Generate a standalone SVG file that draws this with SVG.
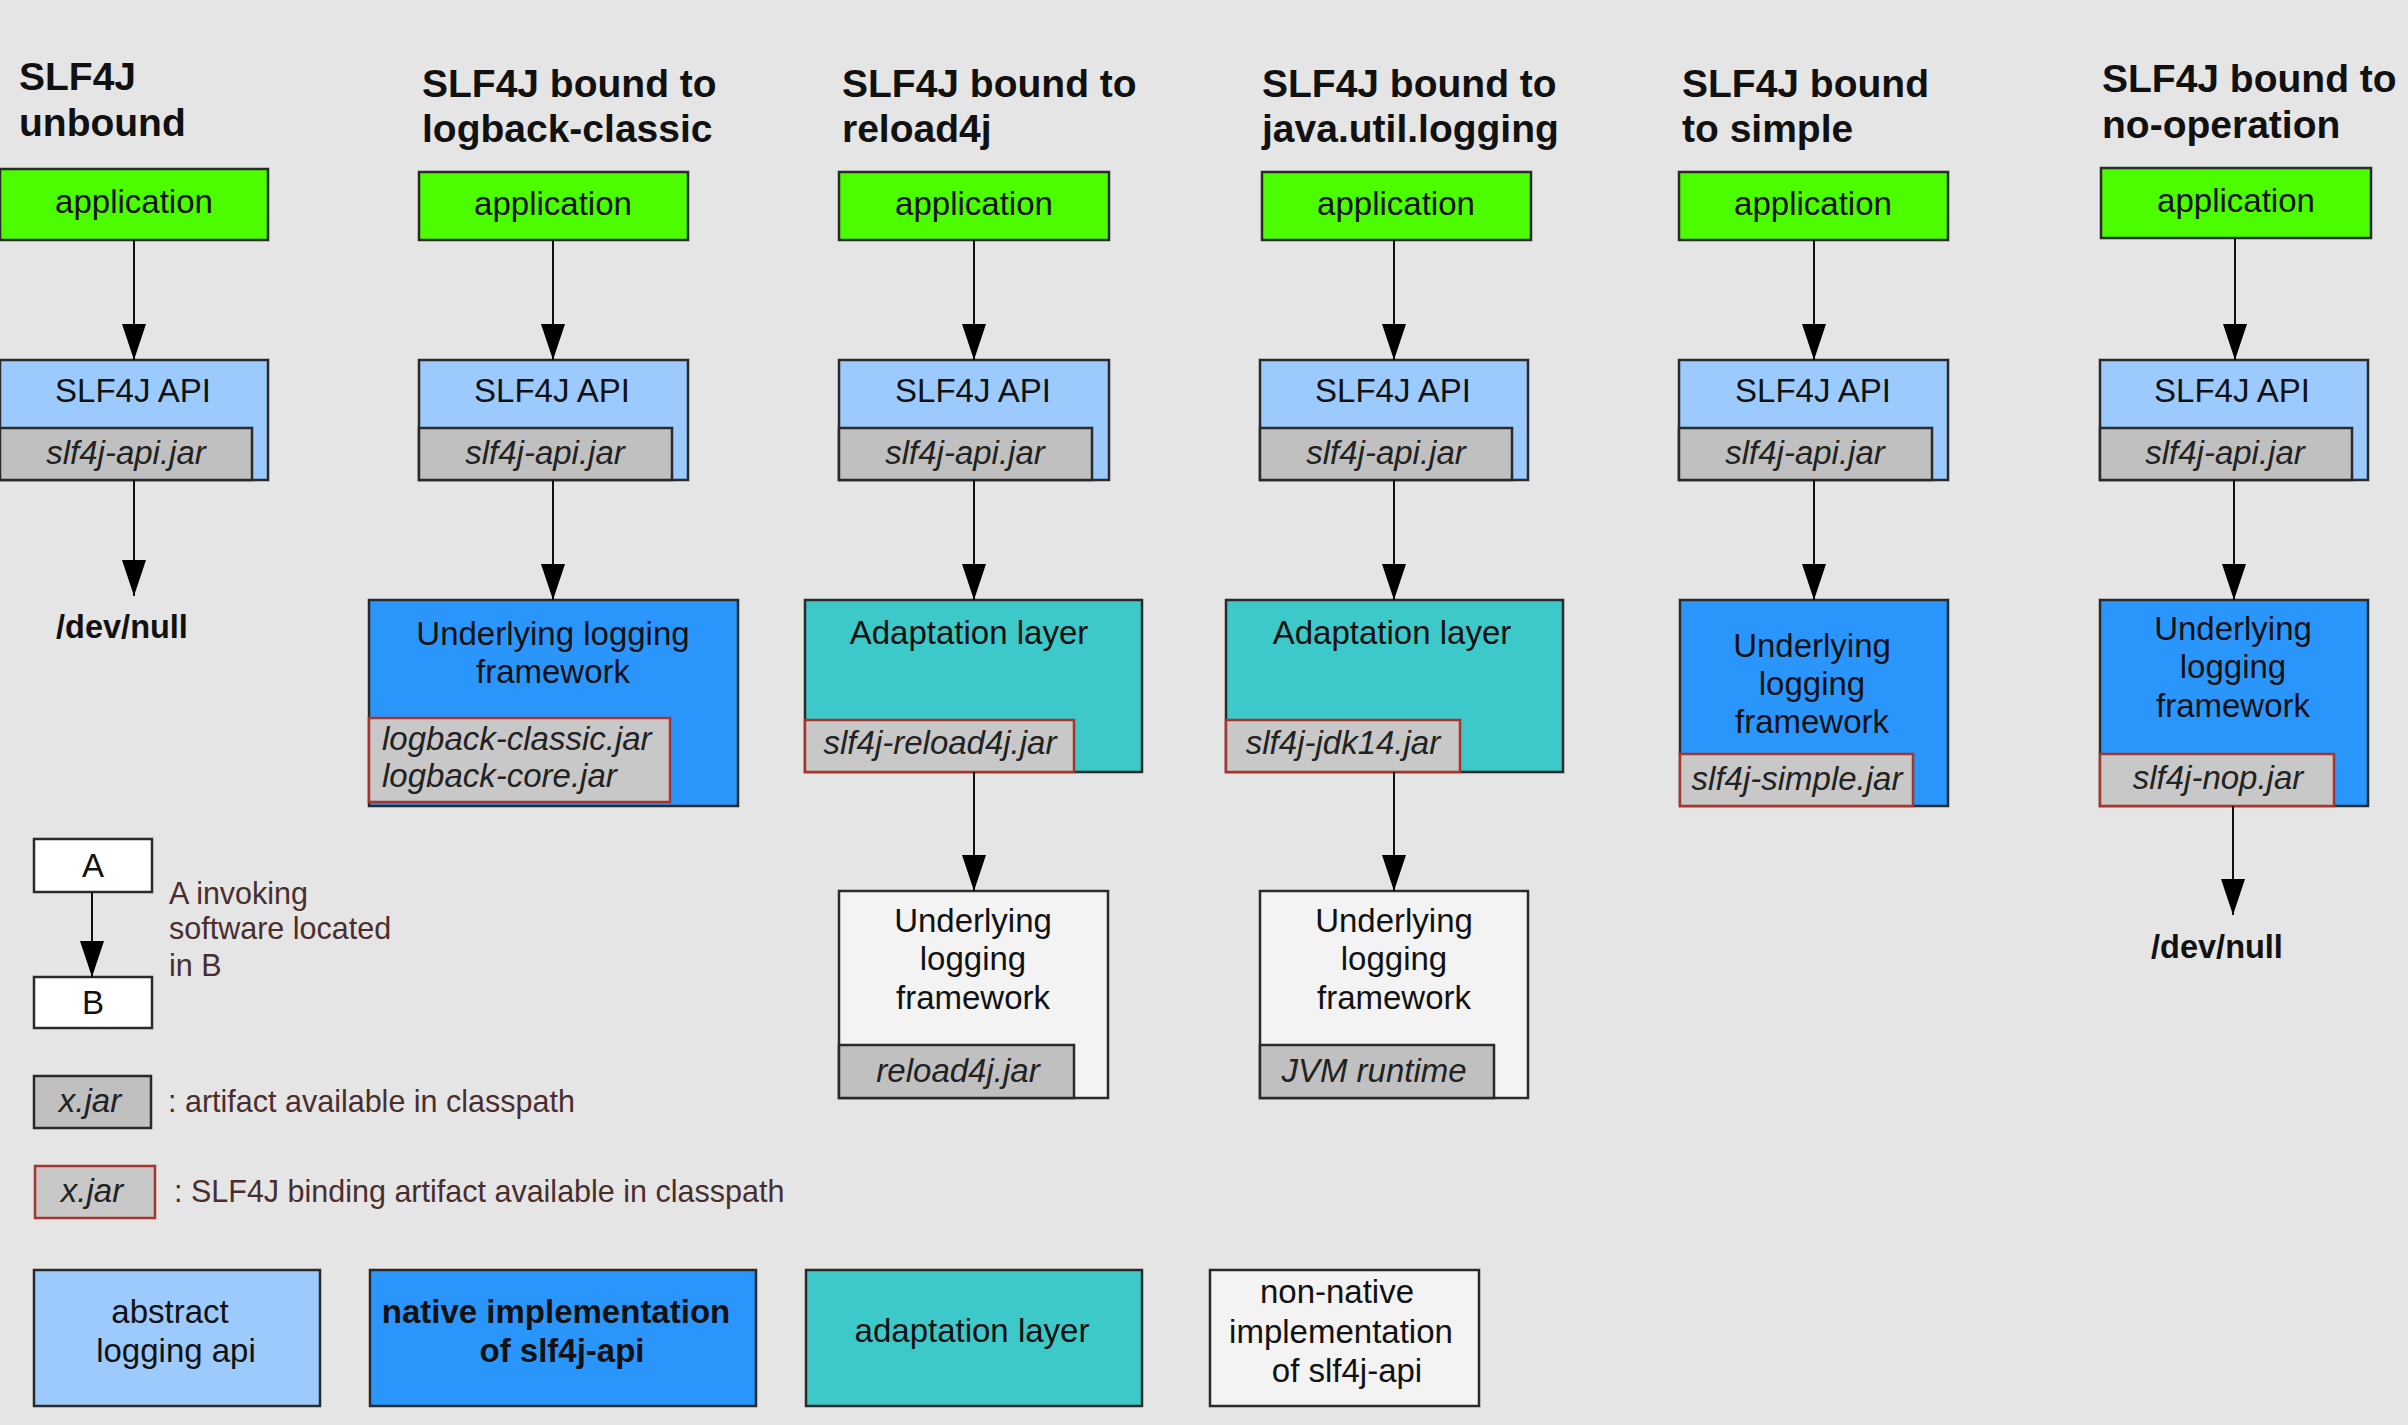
<svg xmlns="http://www.w3.org/2000/svg" width="2408" height="1425" viewBox="0 0 2408 1425">
<defs>
<marker id="ah" markerUnits="userSpaceOnUse" markerWidth="36" markerHeight="24" viewBox="0 0 36 24" refX="36" refY="12" orient="auto">
<path d="M0,0 L36,12 L0,24 z" fill="#000"/>
</marker>
</defs>
<style>
text{font-family:"Liberation Sans",Arial,sans-serif;fill:#111}
.t{font-size:39px;font-weight:bold}
.n{font-size:33px;text-anchor:middle}
.j{font-size:33px;font-style:italic;text-anchor:middle;fill:#222}
.jl{font-size:33px;font-style:italic;fill:#222}
.lg{font-size:30.5px;fill:#4a2e2e}
.dn{font-size:32.5px;font-weight:bold;text-anchor:middle}
rect{stroke:#2a2a2a;stroke-width:2.5}
.app{fill:#4cfd00}
.api{fill:#9dcafd}
.nat{fill:#2a96fc}
.ada{fill:#3dc8c9}
.wht{fill:#f3f3f3}
.jar{fill:#c0c0c0}
.bjar{fill:#c8c8c8;stroke:#a8352c}
.conn line{stroke:#111;stroke-width:2;marker-end:url(#ah)}
</style>
<rect x="0" y="0" width="2408" height="1425" fill="#e5e5e5" style="stroke:none"/>

<g id="titles">
<text class="t" x="19" y="90">SLF4J</text><text class="t" x="19" y="136">unbound</text>
<text class="t" x="422" y="97">SLF4J bound to</text><text class="t" x="422" y="142">logback-classic</text>
<text class="t" x="842" y="97">SLF4J bound to</text><text class="t" x="842" y="142">reload4j</text>
<text class="t" x="1262" y="97">SLF4J bound to</text><text class="t" x="1262" y="142">java.util.logging</text>
<text class="t" x="1682" y="97">SLF4J bound</text><text class="t" x="1682" y="142">to simple</text>
<text class="t" x="2102" y="92">SLF4J bound to</text><text class="t" x="2102" y="138">no-operation</text>
</g>

<g id="app1"><rect class="app" x="0" y="169" width="268" height="71"/><text class="n" x="134" y="213">application</text></g>
<g id="app2"><rect class="app" x="419" y="172" width="269" height="68"/><text class="n" x="553" y="215">application</text></g>
<g id="app3"><rect class="app" x="839" y="172" width="270" height="68"/><text class="n" x="974" y="215">application</text></g>
<g id="app4"><rect class="app" x="1262" y="172" width="269" height="68"/><text class="n" x="1396" y="215">application</text></g>
<g id="app5"><rect class="app" x="1679" y="172" width="269" height="68"/><text class="n" x="1813" y="215">application</text></g>
<g id="app6"><rect class="app" x="2101" y="168" width="270" height="70"/><text class="n" x="2236" y="212">application</text></g>

<g id="api1"><rect class="api" x="0" y="360" width="268" height="120"/><text class="n" x="133" y="402">SLF4J API</text><rect class="jar" x="0" y="428" width="252" height="52"/><text class="j" x="126" y="464">slf4j-api.jar</text></g>
<g id="api2"><rect class="api" x="419" y="360" width="269" height="120"/><text class="n" x="552" y="402">SLF4J API</text><rect class="jar" x="419" y="428" width="253" height="52"/><text class="j" x="545" y="464">slf4j-api.jar</text></g>
<g id="api3"><rect class="api" x="839" y="360" width="270" height="120"/><text class="n" x="973" y="402">SLF4J API</text><rect class="jar" x="839" y="428" width="253" height="52"/><text class="j" x="965" y="464">slf4j-api.jar</text></g>
<g id="api4"><rect class="api" x="1260" y="360" width="268" height="120"/><text class="n" x="1393" y="402">SLF4J API</text><rect class="jar" x="1260" y="428" width="252" height="52"/><text class="j" x="1386" y="464">slf4j-api.jar</text></g>
<g id="api5"><rect class="api" x="1679" y="360" width="269" height="120"/><text class="n" x="1813" y="402">SLF4J API</text><rect class="jar" x="1679" y="428" width="253" height="52"/><text class="j" x="1805" y="464">slf4j-api.jar</text></g>
<g id="api6"><rect class="api" x="2100" y="360" width="268" height="120"/><text class="n" x="2232" y="402">SLF4J API</text><rect class="jar" x="2100" y="428" width="252" height="52"/><text class="j" x="2225" y="464">slf4j-api.jar</text></g>

<g id="devnull1"><text class="dn" x="122" y="638">/dev/null</text></g>

<g id="fw2"><rect class="nat" x="369" y="600" width="369" height="206"/><text class="n" x="553" y="645">Underlying logging</text><text class="n" x="553" y="683">framework</text><rect class="bjar" x="369" y="718" width="301" height="84"/><text class="jl" x="382" y="750">logback-classic.jar</text><text class="jl" x="382" y="787">logback-core.jar</text></g>

<g id="adapt3"><rect class="ada" x="805" y="600" width="337" height="172"/><text class="n" x="969" y="644">Adaptation layer</text><rect class="bjar" x="805" y="720" width="269" height="52"/><text class="j" x="940" y="754">slf4j-reload4j.jar</text></g>
<g id="fwr3"><rect class="wht" x="839" y="891" width="269" height="207"/><text class="n" x="973" y="932">Underlying</text><text class="n" x="973" y="970">logging</text><text class="n" x="973" y="1009">framework</text><rect class="jar" x="839" y="1045" width="235" height="53"/><text class="j" x="958" y="1082">reload4j.jar</text></g>

<g id="adapt4"><rect class="ada" x="1226" y="600" width="337" height="172"/><text class="n" x="1392" y="644">Adaptation layer</text><rect class="bjar" x="1226" y="720" width="234" height="52"/><text class="j" x="1343" y="754">slf4j-jdk14.jar</text></g>
<g id="fwj4"><rect class="wht" x="1260" y="891" width="268" height="207"/><text class="n" x="1394" y="932">Underlying</text><text class="n" x="1394" y="970">logging</text><text class="n" x="1394" y="1009">framework</text><rect class="jar" x="1260" y="1045" width="234" height="53"/><text class="j" x="1374" y="1082">JVM runtime</text></g>

<g id="fw5"><rect class="nat" x="1680" y="600" width="268" height="206"/><text class="n" x="1812" y="657">Underlying</text><text class="n" x="1812" y="695">logging</text><text class="n" x="1812" y="733">framework</text><rect class="bjar" x="1680" y="754" width="233" height="52"/><text class="j" x="1797" y="790">slf4j-simple.jar</text></g>

<g id="fw6"><rect class="nat" x="2100" y="600" width="268" height="206"/><text class="n" x="2233" y="640">Underlying</text><text class="n" x="2233" y="678">logging</text><text class="n" x="2233" y="717">framework</text><rect class="bjar" x="2100" y="754" width="234" height="52"/><text class="j" x="2218" y="789">slf4j-nop.jar</text></g>

<g id="devnull6"><text class="dn" x="2217" y="958">/dev/null</text></g>

<g id="legendA"><rect fill="#fff" x="34" y="839" width="118" height="53"/><text class="n" x="93" y="877">A</text></g>
<g id="legendB"><rect fill="#fff" x="34" y="977" width="118" height="51"/><text class="n" x="93" y="1014">B</text></g>
<g id="legendAB-text"><text class="lg" x="169" y="904">A invoking</text><text class="lg" x="169" y="939">software located</text><text class="lg" x="169" y="976">in B</text></g>
<g id="legend-jar"><rect class="jar" x="34" y="1076" width="117" height="52"/><text class="j" x="90" y="1112">x.jar</text><text class="lg" x="168" y="1112">: artifact available in classpath</text></g>
<g id="legend-bjar"><rect class="bjar" x="35" y="1166" width="120" height="52"/><text class="j" x="92" y="1202">x.jar</text><text class="lg" x="174" y="1202">: SLF4J binding artifact available in classpath</text></g>
<g id="legend-abstract"><rect class="api" x="34" y="1270" width="286" height="136"/><text class="n" x="170" y="1323">abstract</text><text class="n" x="176" y="1362">logging api</text></g>
<g id="legend-native"><rect class="nat" x="370" y="1270" width="386" height="136"/><text class="n" x="556" y="1323" style="font-weight:bold">native implementation</text><text class="n" x="562" y="1362" style="font-weight:bold">of slf4j-api</text></g>
<g id="legend-adapt"><rect class="ada" x="806" y="1270" width="336" height="136"/><text class="n" x="972" y="1342">adaptation layer</text></g>
<g id="legend-nonnative"><rect class="wht" x="1210" y="1270" width="269" height="136"/><text class="n" x="1337" y="1303">non-native</text><text class="n" x="1341" y="1343">implementation</text><text class="n" x="1347" y="1382">of slf4j-api</text></g>

<g id="connectors" class="conn">
<line x1="134" y1="240" x2="134" y2="360"/>
<line x1="134" y1="480" x2="134" y2="596"/>
<line x1="553" y1="240" x2="553" y2="360"/>
<line x1="553" y1="480" x2="553" y2="600"/>
<line x1="974" y1="240" x2="974" y2="360"/>
<line x1="974" y1="480" x2="974" y2="600"/>
<line x1="974" y1="772" x2="974" y2="891"/>
<line x1="1394" y1="240" x2="1394" y2="360"/>
<line x1="1394" y1="480" x2="1394" y2="600"/>
<line x1="1394" y1="772" x2="1394" y2="891"/>
<line x1="1814" y1="240" x2="1814" y2="360"/>
<line x1="1814" y1="480" x2="1814" y2="600"/>
<line x1="2235" y1="238" x2="2235" y2="360"/>
<line x1="2234" y1="480" x2="2234" y2="600"/>
<line x1="2233" y1="806" x2="2233" y2="915"/>
<line x1="92" y1="892" x2="92" y2="977"/>
</g>
</svg>
